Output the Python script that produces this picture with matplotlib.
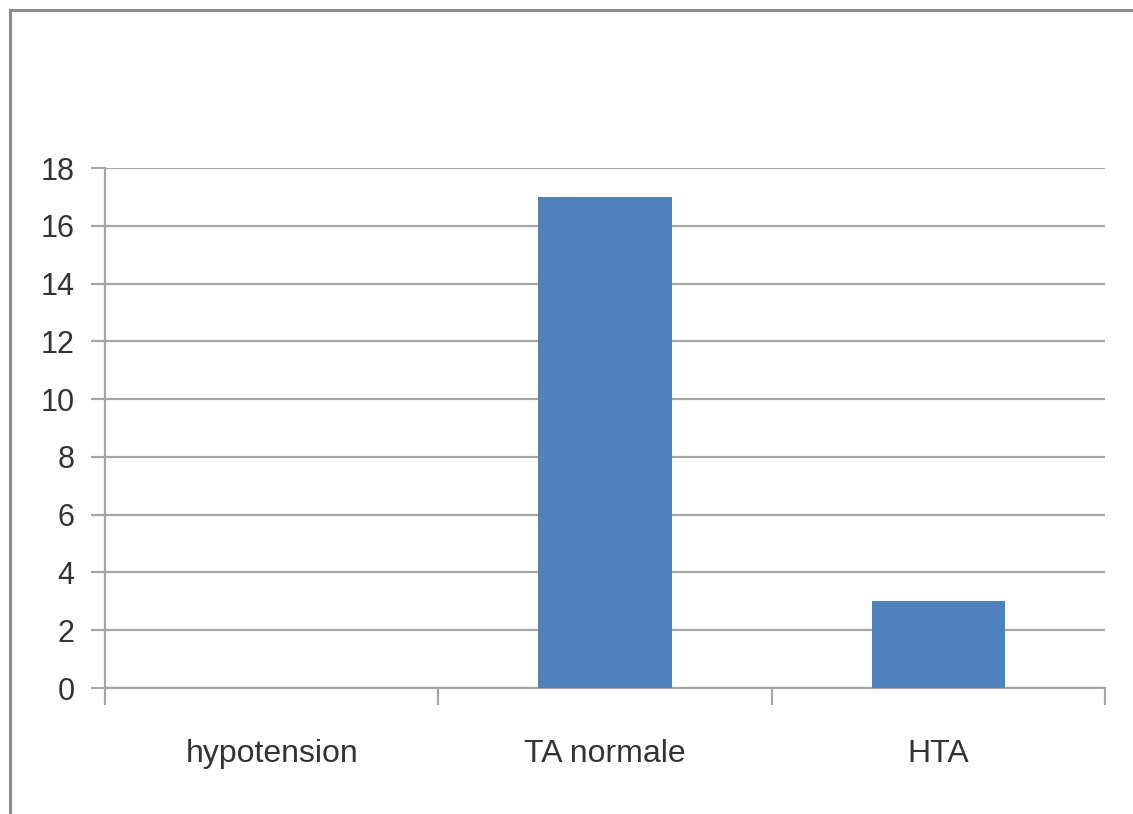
import matplotlib
matplotlib.use("Agg")
import matplotlib.pyplot as plt
from matplotlib.lines import Line2D
import numpy as np

categories = ["hypotension", "TA normale", "HTA"]
values = [0, 17, 3]
yticks = [0, 2, 4, 6, 8, 10, 12, 14, 16, 18]

W, H = 1133, 814
fig = plt.figure(figsize=(W / 100, H / 100), dpi=100)
fig.patch.set_facecolor("white")

# outer chart frame (top and left edges visible)
fig.add_artist(Line2D([10 / W, 10 / W], [0, 1 - 10 / H], color="#8c8c8c", lw=2.2))
fig.add_artist(Line2D([10 / W, 1], [1 - 10 / H, 1 - 10 / H], color="#8c8c8c", lw=2.2))

ax = fig.add_axes([105 / W, 1 - 688 / H, 1000 / W, 520 / H])
x = np.arange(len(categories))
ax.bar(x, values, width=0.4, color="#4F81BD", zorder=3)

ax.set_xlim(-0.5, len(categories) - 0.5)
ax.set_ylim(0, 18)
ax.set_yticks(yticks)
ax.set_yticklabels([str(t) for t in yticks])
ax.yaxis.grid(True, color="#a6a6a6", lw=1.6, zorder=0)
ax.set_axisbelow(True)

for s in ["top", "right"]:
    ax.spines[s].set_visible(False)
ax.spines["left"].set_color("#a6a6a6")
ax.spines["left"].set_linewidth(1.6)
ax.spines["bottom"].set_color("#a6a6a6")
ax.spines["bottom"].set_linewidth(1.6)

# category labels centered, ticks at category boundaries
ax.set_xticks(np.arange(len(categories) + 1) - 0.5)
ax.set_xticklabels([""] * (len(categories) + 1))
ax.set_xticks(x, minor=True)
ax.set_xticklabels(categories, minor=True)
ax.tick_params(axis="x", which="major", length=12, width=1.6, color="#a6a6a6", direction="out")
ax.tick_params(axis="x", which="minor", length=0, pad=37, labelsize=23, labelcolor="#333333")
ax.tick_params(axis="y", length=10, width=1.6, color="#a6a6a6", direction="out", pad=12,
               labelsize=22, labelcolor="#333333")
for lab in ax.get_xticklabels(minor=True) + ax.get_yticklabels():
    lab.set_family(["Liberation Sans Narrow", "Liberation Sans", "DejaVu Sans"])

fig.savefig("out.png", dpi=100, facecolor="white")
